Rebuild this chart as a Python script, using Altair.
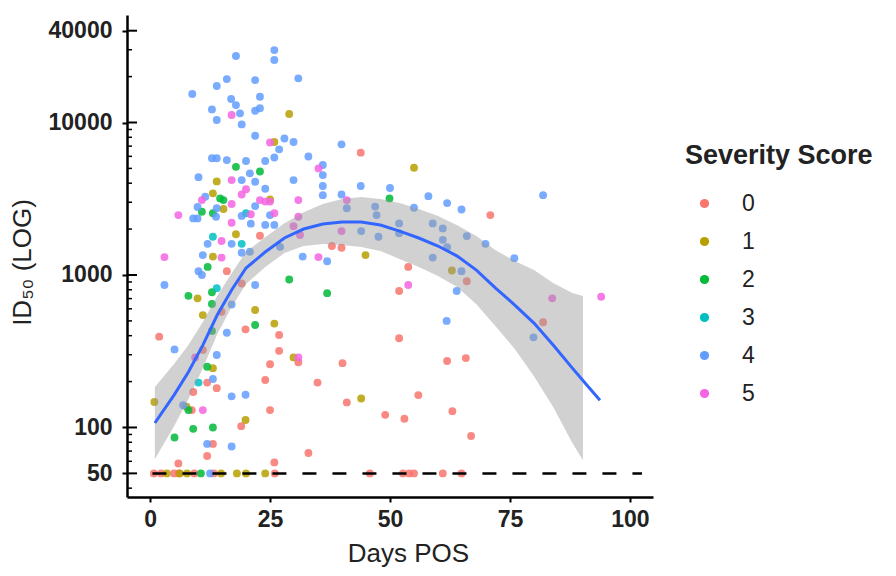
import altair as alt
import pandas as pd

# ---------------- data ----------------
s0_day = [43.9, 22.9, 16.0, 19.1, 37.9, 39.9, 70.9, 66.0, 53.8, 51.9, 81.9, 51.9, 40.1, 61.9, 65.8,
          41.0, 55.9, 49.0, 53.0, 63.0, 66.9, 14.9, 19.9, 1.9, 26.9, 11.0, 25.0, 26.9, 30.9, 11.9,
          13.9, 9.0, 24.0, 34.9, 8.7, 25.0, 19.0, 13.1, 11.9, 33.0, 25.9, 5.9,
          0.8, 2.3, 5.0, 6.0, 9.2, 13.3, 26.0, 45.8, 52.7, 54.0, 55.0, 61.0, 64.9]
s0_val = [6340, 1810, 1060, 880, 1550, 1510, 2470, 910, 1130, 785, 490, 385, 264, 273, 285,
          146, 163, 121, 114, 128, 88, 574, 440, 394, 404, 322, 260, 318, 268, 197,
          181, 171, 205, 197, 130, 130, 102, 78, 65, 68, 59, 58,
          50, 50, 50, 50, 50, 50, 50, 50, 50, 50, 50, 50, 50]

s1_day = [29.0, 25.9, 55.0, 13.9, 13.1, 25.0, 15.3, 17.9, 13.1, 44.9, 9.9, 11.0, 21.9, 25.9, 29.9,
          13.1, 0.9, 7.6, 19.9, 62.9, 44.0,
          3.5, 6.2, 7.7, 14.8, 18.1, 20.0, 24.0]
s1_val = [11360, 7450, 5050, 4110, 3430, 3130, 2710, 1850, 1320, 1350, 703, 546, 589, 480, 288,
          245, 147, 137, 112, 1070, 155,
          50, 50, 50, 50, 50, 50, 50]

s2_day = [17.9, 22.9, 14.6, 15.3, 10.8, 13.1, 12.0, 29.0, 49.9, 36.9, 8.0, 12.9, 12.9, 21.9, 12.9,
          11.9, 8.0, 9.0, 13.1, 5.1, 10.6]
s2_val = [5120, 4770, 3180, 3100, 2600, 2540, 1130, 935, 3180, 760, 730, 770, 645, 470, 430,
          250, 130, 98, 100, 86, 50]

s3_day = [13.9, 20.0, 13.1, 19.1, 10.1]
s3_val = [820, 2540, 1780, 1600, 197]

s4_day = [17.9, 25.9, 25.9, 16.0, 21.9, 30.9, 13.9, 8.8, 16.9, 22.9, 17.9, 12.9, 21.9, 22.9, 13.9,
          18.75, 19.1, 21.9, 28.0, 29.9, 26.9, 25.9, 24.0, 20.0, 16.0, 12.9, 13.9, 33.0, 39.9, 20.8,
          10.1, 19.1, 21.9, 29.9, 36.0, 36.0, 36.0, 36.0, 43.9, 50.0, 24.0, 11.5, 13.9, 9.9, 13.75,
          9.0, 9.9, 21.9, 19.1, 21.0, 24.0, 25.9, 25.0, 39.9, 41.0, 46.9, 47.2, 47.6, 44.0, 12.0,
          17.0, 19.1, 20.8, 11.0, 10.1, 10.8, 3.0, 21.9, 27.1, 31.8, 36.9, 55.0, 58.0, 61.9, 64.9,
          81.9, 51.9, 51.9, 58.9, 61.0, 61.0, 61.9, 66.0, 69.9, 75.9, 58.9, 64.9, 63.9, 61.8, 79.9,
          17.0, 16.0, 5.1, 13.9, 13.1, 17.0, 19.9, 6.9, 11.9, 17.0, 12.5]
s4_val = [27290, 29850, 25700, 19270, 18980, 19480, 17340, 15370, 14250, 14750, 13010, 12190, 11940, 12390, 10380,
          11480, 9720, 8180, 7850, 7450, 6670, 5890, 5590, 5590, 5670, 5830, 5830, 5980, 7190, 4640,
          4380, 4190, 4090, 4190, 5260, 4520, 3830, 3340, 3830, 3720, 3680, 3260, 2740, 2790, 2410,
          2350, 2350, 2830, 2440, 2170, 2130, 2130, 2470, 3370, 2740, 2810, 2470, 1780, 1940, 1600,
          1600, 1400, 1420, 1350, 1060, 1000, 860, 860, 1530, 1320, 1230, 2760, 3290, 2960, 2690,
          3340, 2180, 1880, 2180, 2020, 1700, 1520, 1800, 1600, 1290, 1300, 1060, 785, 500, 390,
          640, 418, 325, 299, 208, 160, 164, 140, 78, 75, 50]

s5_day = [17.0, 25.0, 35.1, 17.0, 20.0, 19.1, 10.8, 17.0, 5.9, 22.9, 24.0, 25.0, 30.9, 21.0, 17.0,
          25.9, 30.9, 29.9, 31.25, 39.9, 41.0, 14.9, 14.9, 3.0, 35.1, 53.8, 83.8, 94.0, 30.9, 9.4, 11.0]
s5_val = [11190, 7400, 5000, 4190, 3650, 3370, 3100, 2920, 2470, 3100, 3030, 3030, 3100, 2500, 2200,
          2540, 2410, 2090, 1830, 1940, 3100, 1670, 1300, 1310, 1310, 860, 703, 720, 288, 288, 130]

fit_day = [1, 5, 8, 11, 14, 17, 20, 24, 28, 32, 36, 40, 44, 48, 52, 56, 60, 64, 68, 72, 76, 80, 84, 88, 91, 93.75]
fit_val = [107, 163, 231, 347, 546, 797, 1111, 1414, 1748, 2002, 2159, 2225, 2225, 2126, 1941, 1748, 1549, 1331,
           1077, 821, 635, 484, 347, 245, 190, 151]

band_day = [1, 5, 8, 11, 14, 17, 20, 24, 28, 32, 36, 40, 44, 48, 52, 56, 60, 64, 68, 72, 76, 80, 84, 88, 90.2]
band_hi = [184, 261, 347, 492, 728, 1028, 1416, 1770, 2188, 2582, 2917, 3148, 3243, 3148, 2965, 2704, 2438, 2123,
           1799, 1455, 1236, 1079, 887, 762, 728]
band_lo = [62, 102, 154, 245, 409, 617, 873, 1127, 1393, 1549, 1596, 1570, 1524, 1439, 1271, 1127, 984, 834,
           644, 462, 327, 217, 136, 79, 61]

limit_val = 50
limit_days = [0.5, 102.5]

severity = ["0", "1", "2", "3", "4", "5"]
sev_colors = ["#F8766D", "#B79F00", "#00BA38", "#00BFC4", "#619CFF", "#F564E3"]

x_ticks = [0, 25, 50, 75, 100]
y_major = [50, 100, 1000, 10000, 40000]
y_minor = [40, 60, 70, 80, 90, 200, 300, 400, 500, 600, 700, 800, 900,
           2000, 3000, 4000, 5000, 6000, 7000, 8000, 9000, 20000, 30000]

# ---------------- tables ----------------
rows = []
for sev, dd, vv in zip(severity, [s0_day, s1_day, s2_day, s3_day, s4_day, s5_day],
                       [s0_val, s1_val, s2_val, s3_val, s4_val, s5_val]):
    for d, v in zip(dd, vv):
        rows.append({"day": d, "val": v, "sev": sev})
pts = pd.DataFrame(rows)
fit = pd.DataFrame({"day": fit_day, "val": fit_val})
band = pd.DataFrame({"day": band_day, "lo": band_lo, "hi": band_hi})
limit = pd.DataFrame({"d0": [limit_days[0]], "d1": [limit_days[1]], "val": [limit_val]})
major = pd.DataFrame({"val": y_major})
minor = pd.DataFrame({"val": y_minor})

FONT = "Liberation Sans"
xscale = alt.Scale(domain=[-4.8, 104.8], nice=False, zero=False)
yscale = alt.Scale(type="log", domain=[35, 50700], nice=False)

xaxis = alt.Axis(values=x_ticks, title="Days POS", grid=False,
                 labelFont=FONT, labelFontSize=23, labelFontWeight="bold", labelColor="#222",
                 titleFont=FONT, titleFontSize=26, titleFontWeight="normal", titleColor="#222",
                 titleX=281, titleY=56, titleBaseline="middle", titleAlign="center",
                 tickSize=5, tickWidth=2, tickColor="black", labelPadding=6,
                 domainColor="black", domainWidth=2.5)
yaxis = alt.Axis(values=y_major, format="d", title="ID₅₀ (LOG)", grid=False,
                 labelFont=FONT, labelFontSize=23, labelFontWeight="bold", labelColor="#222",
                 titleFont=FONT, titleFontSize=26, titleFontWeight="normal", titleColor="#222",
                 titleX=-105, titleY=247, titleAngle=270, titleBaseline="middle", titleAlign="center",
                 tickSize=5, tickWidth=2, tickColor="black", labelPadding=10,
                 domainColor="black", domainWidth=2.5)

points = alt.Chart(pts).mark_circle(size=62, opacity=0.85).encode(
    x=alt.X("day:Q", scale=xscale, axis=xaxis),
    y=alt.Y("val:Q", scale=yscale, axis=yaxis),
    color=alt.Color("sev:N", scale=alt.Scale(domain=severity, range=sev_colors),
                    legend=alt.Legend(title="Severity Score", orient="none", legendX=558, legendY=128,
                                      titleFont=FONT, titleFontSize=27, titleFontWeight="bold",
                                      titleColor="#222", titlePadding=22, titleLimit=400,
                                      labelFont=FONT, labelFontSize=23, labelColor="#222",
                                      symbolType="circle", symbolSize=85, symbolOpacity=1,
                                      symbolStrokeWidth=0, rowPadding=14, symbolOffset=8,
                                      labelOffset=26, padding=0)),
)

ribbon = alt.Chart(band).mark_area(color="#999999", opacity=0.45).encode(
    x=alt.X("day:Q", scale=xscale),
    y=alt.Y("lo:Q", scale=yscale),
    y2="hi:Q",
)

curve = alt.Chart(fit).mark_line(color="#3366FF", strokeWidth=3).encode(
    x=alt.X("day:Q", scale=xscale),
    y=alt.Y("val:Q", scale=yscale),
)

dashed = alt.Chart(limit).mark_rule(color="black", strokeWidth=2.5, strokeDash=[14, 16]).encode(
    x=alt.X("d0:Q", scale=xscale),
    x2="d1:Q",
    y=alt.Y("val:Q", scale=yscale),
)

major_ticks = alt.Chart(major).mark_rule(color="black", strokeWidth=2).encode(
    y=alt.Y("val:Q", scale=yscale), x=alt.value(0), x2=alt.value(10))
minor_ticks = alt.Chart(minor).mark_rule(color="black", strokeWidth=1.5).encode(
    y=alt.Y("val:Q", scale=yscale), x=alt.value(0), x2=alt.value(5))

chart = alt.layer(points, ribbon, curve, dashed, major_ticks, minor_ticks).properties(
    width=526, height=482,
    padding={"left": 119, "top": 7, "right": 230, "bottom": 70},
    autosize=alt.AutoSizeParams(type="none"),
    background="white",
).configure_view(stroke=None)

chart.save("out.html", embed_options={"renderer": "svg", "actions": False})
